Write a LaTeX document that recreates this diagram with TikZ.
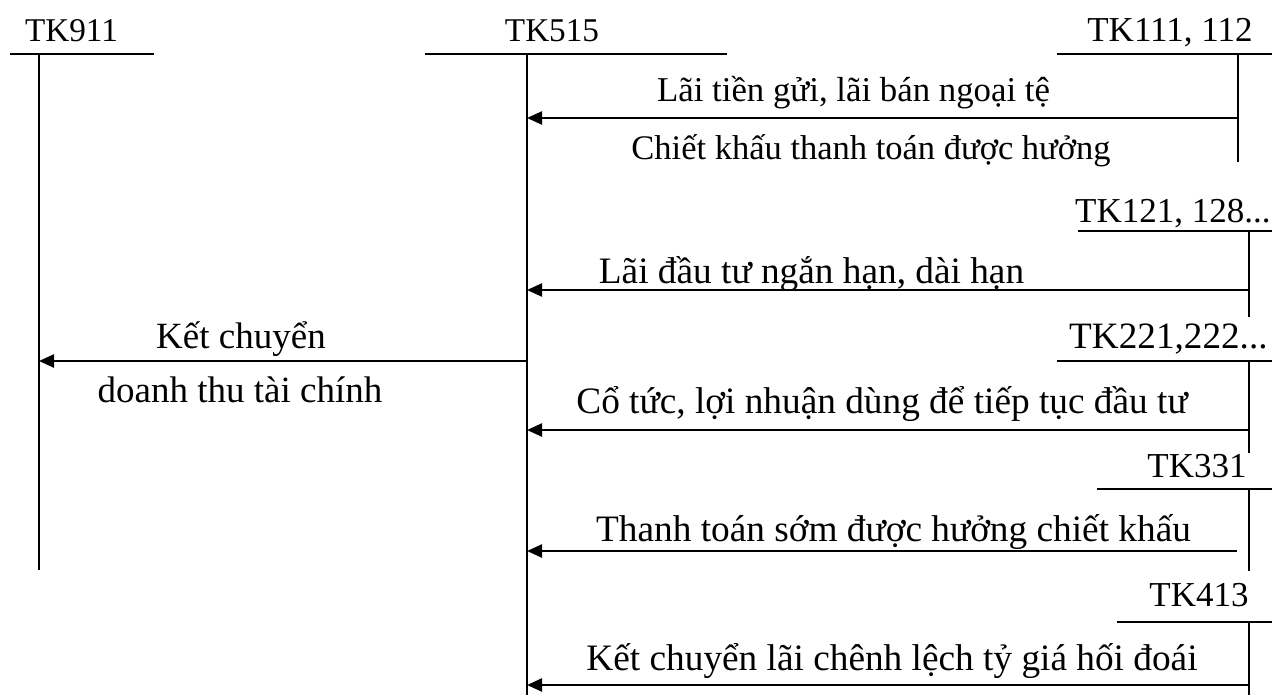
\documentclass[tikz,border=0pt]{standalone}
\usepackage{fontspec}
\setmainfont{Liberation Serif}
\usetikzlibrary{arrows.meta}

\begin{document}
\begin{tikzpicture}[x=0.5pt,y=-0.5pt,
  hline/.style={line width=1.3pt},
  vline/.style={line width=0.9pt},
  flow/.style={line width=1.2pt,-{Triangle[length=7.5pt,width=6.5pt]}},
  lbl/.style={inner sep=0pt,anchor=base,font=\fontsize{#1pt}{#1pt}\selectfont},
  lbl/.default=17.5,
  rlbl/.style={lbl=#1,anchor=base east},
  rlbl/.default=17.5]
  \useasboundingbox (0,0) rectangle (1272,695);

  % account headers (T-accounts)
  \node[lbl=16.6]  (n911) at (71.5,42) {TK911};
  \node[lbl=16.6]  (n515) at (552,42)  {TK515};
  \node[rlbl]      (n111) at (1253,42) {TK111, 112};
  \node[rlbl]      (n121) at (1271,222) {TK121, 128...};
  \node[rlbl=18.6] (n221) at (1268,348) {TK221,222...};
  \node[rlbl]      (n331) at (1247,477) {TK331};
  \node[rlbl]      (n413) at (1249,606) {TK413};

  % header bars and stems
  \coordinate (h911a) at (10,54);    \coordinate (h911b) at (154,54);
  \coordinate (s911a) at (39,54);    \coordinate (s911b) at (39,570);
  \coordinate (h515a) at (425,54);   \coordinate (h515b) at (727,54);
  \coordinate (s515a) at (527,54);   \coordinate (s515b) at (527,695);
  \coordinate (h111a) at (1057,54);  \coordinate (h111b) at (1272,54);
  \coordinate (s111a) at (1238,54);  \coordinate (s111b) at (1238,162);
  \coordinate (h121a) at (1078,231); \coordinate (h121b) at (1272,231);
  \coordinate (s121a) at (1249,231); \coordinate (s121b) at (1249,317);
  \coordinate (h221a) at (1057,361); \coordinate (h221b) at (1272,361);
  \coordinate (s221a) at (1249,361); \coordinate (s221b) at (1249,453);
  \coordinate (h331a) at (1097,489); \coordinate (h331b) at (1272,489);
  \coordinate (s331a) at (1249,489); \coordinate (s331b) at (1249,571);
  \coordinate (h413a) at (1117,622); \coordinate (h413b) at (1272,622);
  \coordinate (s413a) at (1249,622); \coordinate (s413b) at (1249,695);

  \foreach \k in {911,515,111,121,221,331,413}{
    \draw[hline] (h\k a) -- (h\k b);
    \draw[vline] (s\k a) -- (s\k b);
  }

  % flow start and end points
  \coordinate (f1a) at (1238,118); \coordinate (f1b) at (527,118);
  \coordinate (f2a) at (1249,290); \coordinate (f2b) at (527,290);
  \coordinate (f3a) at (1249,430); \coordinate (f3b) at (527,430);
  \coordinate (f4a) at (1237,551); \coordinate (f4b) at (527,551);
  \coordinate (f5a) at (1249,685); \coordinate (f5b) at (527,685);
  \coordinate (fka) at (527,361);  \coordinate (fkb) at (39,361);

  \draw[flow] (f1a) -- (f1b);
  \draw[flow] (f2a) -- (f2b);
  \draw[flow] (f3a) -- (f3b);
  \draw[flow] (f4a) -- (f4b);
  \draw[flow] (f5a) -- (f5b);
  \draw[flow] (fka) -- (fkb);

  % flow labels
  \node[lbl=17.4]  (t1a) at (853.5,102) {Lãi tiền gửi, lãi bán ngoại tệ};
  \node[lbl=17.25] (t1b) at (871,160)   {Chiết khấu thanh toán được hưởng};
  \node[lbl=18.65] (t2)  at (811.5,283) {Lãi đầu tư ngắn hạn, dài hạn};
  \node[lbl=18.65] (t3)  at (882,413)   {Cổ tức, lợi nhuận dùng để tiếp tục đầu tư};
  \node[lbl=18.65] (t4)  at (893.5,541) {Thanh toán sớm được hưởng chiết khấu};
  \node[lbl=18.65] (t5)  at (892,670)   {Kết chuyển lãi chênh lệch tỷ giá hối đoái};
  \node[lbl=18.5]  (tka) at (241,348)   {Kết chuyển};
  \node[lbl=18.5]  (tkb) at (240,402)   {doanh thu tài chính};
\end{tikzpicture}
\end{document}
